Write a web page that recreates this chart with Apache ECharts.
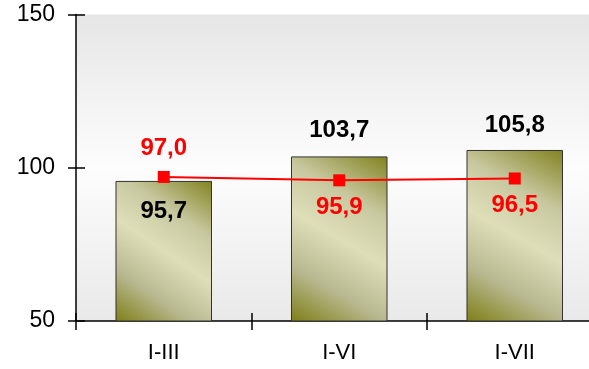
<!DOCTYPE html>
<html>
<head>
<meta charset="utf-8">
<script src="https://cdn.jsdelivr.net/npm/echarts@6/dist/echarts.min.js"></script>
<style>html,body{margin:0;padding:0;background:#fff}#c{width:589px;height:369px}</style>
</head>
<body>
<div id="c"></div>
<script>
const categories = ['I-III', 'I-VI', 'I-VII'];
const barValues = [95.7, 103.7, 105.8];
const lineValues = [97.0, 95.9, 96.5];
const yTicks = [50, 100, 150];

const fmt = v => v.toFixed(1).replace('.', ',');
const barLabelPos = ['insideTop', 'top', 'top'];
const barLabelDist = [18, 14, 13];
const lineLabelPos = ['top', 'bottom', 'bottom'];
const lineLabelDist = [11, 9, 9];

const chart = echarts.init(document.getElementById('c'), null, {renderer: 'canvas'});
const barFill = {
  type: 'linear', x: 0, y: 1, x2: 1, y2: 0,
  colorStops: [
    {offset: 0, color: '#7e7e16'},
    {offset: 0.25, color: '#b8b890'},
    {offset: 0.5, color: '#dedeb9'},
    {offset: 0.72, color: '#c8c8a0'},
    {offset: 1, color: '#828220'}
  ]
};
const fam = 'Liberation Sans, Arial, sans-serif';
chart.setOption({
  animation: false,
  grid: {
    left: 76, top: 14.5, width: 526.5, height: 306.5,
    outerBoundsMode: 'none',
    show: true, borderWidth: 0,
    backgroundColor: {
      type: 'linear', x: 0, y: 0, x2: 0, y2: 1,
      colorStops: [
        {offset: 0, color: '#e6e6e6'},
        {offset: 0.5, color: '#fdfdfd'},
        {offset: 1, color: '#e9e9e9'}
      ]
    }
  },
  xAxis: [{
    type: 'category', data: categories, boundaryGap: true,
    axisLine: {lineStyle: {color: '#000', width: 1.5}},
    axisTick: {show: true, length: 9, inside: false, lineStyle: {color: '#000', width: 1.5}},
    axisLabel: {margin: 21, fontSize: 22, fontFamily: fam, color: '#000'},
    splitLine: {show: false}
  }, {
    type: 'category', data: categories, boundaryGap: true, position: 'bottom',
    axisLine: {show: false},
    axisTick: {show: true, length: 8, inside: true, lineStyle: {color: '#000', width: 1.5}},
    axisLabel: {show: false}, splitLine: {show: false}
  }],
  yAxis: [{
    type: 'value', min: 50, max: 150, interval: 50,
    axisLine: {show: true, lineStyle: {color: '#000', width: 1.5}},
    axisTick: {show: true, length: 8, inside: false, lineStyle: {color: '#000', width: 1.5}},
    axisLabel: {margin: 21, fontSize: 23, fontFamily: fam, color: '#000',
      formatter: v => yTicks.includes(v) ? String(v) : ''},
    splitLine: {show: false}
  }, {
    type: 'value', min: 50, max: 150, interval: 50, position: 'left',
    axisLine: {show: false},
    axisTick: {show: true, length: 9, inside: true, lineStyle: {color: '#000', width: 1.5}},
    axisLabel: {show: false}, splitLine: {show: false}
  }],
  series: [{
    type: 'bar', xAxisIndex: 0, yAxisIndex: 0,
    barWidth: '55%',
    data: barValues.map((v, i) => ({
      value: v,
      label: {show: true, position: barLabelPos[i], distance: barLabelDist[i]}
    })),
    itemStyle: {color: barFill, borderColor: '#333', borderWidth: 1},
    label: {
      show: true, formatter: p => fmt(p.value), color: '#000',
      fontFamily: fam, fontWeight: 'bold', fontSize: 24
    },
    z: 2
  }, {
    type: 'line', xAxisIndex: 0, yAxisIndex: 0,
    data: lineValues.map((v, i) => ({
      value: v,
      label: {show: true, position: lineLabelPos[i], distance: lineLabelDist[i]}
    })),
    symbol: 'rect', symbolSize: 12,
    lineStyle: {color: '#ff0000', width: 2},
    itemStyle: {color: '#ff0000'},
    label: {
      show: true, formatter: p => fmt(p.value), color: '#ff0000',
      fontFamily: fam, fontWeight: 'bold', fontSize: 24
    },
    z: 3
  }]
});
</script>
</body>
</html>
